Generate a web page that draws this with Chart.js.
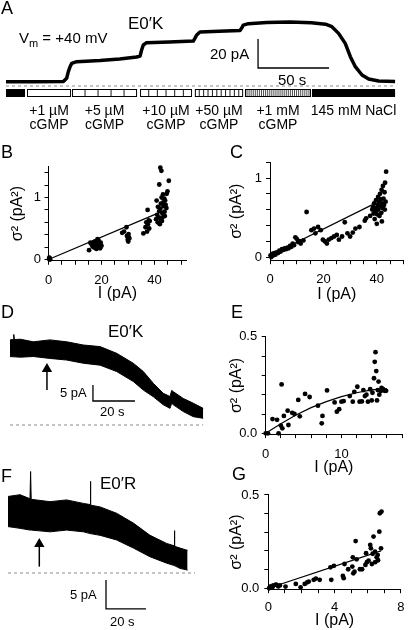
<!DOCTYPE html>
<html lang="en"><head><meta charset="utf-8">
<title>cGMP-activated current and variance</title>
<script src="https://cdn.jsdelivr.net/npm/chart.js@4.4.1/dist/chart.umd.min.js"></script>
<style>
html,body{margin:0;padding:0;background:#fff;}
body{width:411px;height:630px;position:relative;overflow:hidden;font-family:"Liberation Sans",Arial,Helvetica,sans-serif;color:#000;}
canvas{position:absolute;}
.t{position:absolute;line-height:1;white-space:nowrap;}
.L{font-size:18px;}
</style></head><body>
<canvas id="cA"></canvas>
<canvas id="cB"></canvas>
<canvas id="cC"></canvas>
<canvas id="cD"></canvas>
<canvas id="cE"></canvas>
<canvas id="cF"></canvas>
<canvas id="cG"></canvas>

<div class="t L" style="left:1px;top:-1px">A</div>
<div class="t" style="left:128px;top:15px;font-size:17px">E0′K</div>
<div class="t" style="left:19px;top:30px;font-size:15px">V<span style="font-size:11px;position:relative;top:4px">m</span> = +40 mV</div>
<div class="t" style="left:210px;top:46px;font-size:15px">20 pA</div>
<div class="t" style="left:278px;top:72px;font-size:15px">50 s</div>

<div class="t L" style="left:1px;top:143px">B</div>
<div class="t L" style="left:230px;top:143px">C</div>

<div class="t L" style="left:1px;top:303px">D</div>
<div class="t" style="left:108px;top:323px;font-size:17px">E0′K</div>
<div class="t" style="left:60px;top:386px;font-size:13px">5 pA</div>
<div class="t" style="left:100px;top:405px;font-size:13px">20 s</div>
<div class="t L" style="left:231px;top:303px">E</div>

<div class="t L" style="left:1px;top:467px">F</div>
<div class="t" style="left:100px;top:475px;font-size:17px">E0′R</div>
<div class="t" style="left:70px;top:588px;font-size:13px">5 pA</div>
<div class="t" style="left:110px;top:615px;font-size:13px">20 s</div>
<div class="t L" style="left:232px;top:465px">G</div>

<script>
const FONT = '"Liberation Sans", Arial, Helvetica, sans-serif';

// ===== Panel A: current trace (time s, current pA) =====
const aTime    = [0, 20, 40.4, 42.7, 43.9, 45.1, 46.3, 49.8, 66.2, 80, 92, 94.4, 95.5, 96.7, 99, 115, 131.9, 133.1, 134.3, 136.6, 150, 164.8, 166, 167.1, 170.7, 183.6, 200, 215, 225, 229.5, 234.2, 238.9, 242.5, 246, 250.7, 255.4, 262.4, 274];
const aCurrent = [3.0, 3.0, 3.1, 5.3, 9.9, 13.3, 15.6, 16.8, 17.6, 18.6, 20.0, 20.7, 24.8, 28.3, 29.9, 30.4, 31.0, 33.0, 35.2, 37.3, 37.8, 38.3, 40.0, 42.0, 43.0, 43.8, 44.2, 43.6, 42.6, 40.9, 36.3, 29.4, 20.2, 13.3, 7.6, 4.8, 3.4, 3.1];
const aZeroT = [0, 274], aZeroI = [0, 0];
const aScaleT = [177.5, 177.5, 227.5], aScaleI = [32.4, 12.4, 12.4];   // 20 pA / 50 s
// solution bar (time s)
const stimStart = [0, 14.8, 46.5, 94.4, 133, 168.3, 215.5];
const stimEnd   = [13.4, 45.8, 92.3, 131, 167, 214.8, 274];
const stimCells = [0, 1, 5, 6, 11, 32, 0];   // 0 = solid black
const stimLabel = ['', '+1 µM\ncGMP', '+5 µM\ncGMP', '+10 µM\ncGMP', '+50 µM\ncGMP', '+1 mM\ncGMP', '145 mM NaCl'];

// ===== Panel B: variance vs current =====
const bI   = [0.2,0.4,0.6,0.3,0.5, 15.3,15.8,16.2,16.6,17.0,17.2,17.3,17.6,17.9,18.1,18.3,18.5,18.6,18.9,19.2,19.5,19.7,20.0, 27.8,28.5,29.4,29.6,29.9,30.1,30.2,30.3,30.5, 35.8,36.6,36.9,37.2,37.4,37.5,37.8,38.0,38.2, 40.6,40.8,41.0,41.2,41.3,41.8,41.6,41.8,42.0,42.2,42.6,42.4,42.5,42.7,42.9,43.0,43.2,43.3,43.5,43.7,43.8,44.0,44.2,44.9,44.6,45.4,44.5,43.9,42.8,42.2];
const bVar = [0.01,0.02,0.0,0.03,0.01, 0.15,0.27,0.25,0.21,0.24,0.28,0.19,0.29,0.23,0.17,0.26,0.33,0.2,0.31,0.22,0.18,0.27,0.22, 0.43,0.45,0.52,0.38,0.32,0.29,0.41,0.36,0.34, 0.42,0.52,0.6,0.45,0.8,0.57,0.63,0.5,0.62, 0.65,0.95,0.72,0.6,0.85,1.21,0.68,0.78,0.57,1.48,1.43,0.9,0.64,1.0,0.75,0.68,1.05,0.92,0.86,0.98,0.77,0.95,0.88,1.1,1.06,1.27,0.83,0.7,0.62,0.82];
const bFitI = [0, 40.9], bFitVar = [0, 0.74];

// ===== Panel C =====
const cI   = [0.2,0.5,0.8,1.2,1.6,2.0,2.5,3.0,3.5,4.0,4.5,5.0,5.5,6.0,6.5,7.0,7.5,8.0,8.5,9.0,9.5,10.0,10.5,11.0,11.5,12.5, 13.7, 15.5,16.5,17.0,18.0,19.0,19.8,20.5,21.3,22.0,23.0,24.0,25.0,25.8,27.0,28.0,29.0,30.0,31.0,32.0,33.5,35.5,36.0,37.5, 38.3,38.6,38.8,39.0,39.2,39.5,39.7,39.9,40.1,40.3,40.5,40.6,40.8,41.0,41.2,41.3,41.5,41.7,41.8,42.0,42.2,42.3,42.5,42.7,42.9,43.1,43.3,43.5,43.0,41.9,40.0];
const cVar = [0.02,0.0,0.04,0.02,0.05,0.03,0.06,0.05,0.08,0.07,0.1,0.09,0.11,0.1,0.12,0.11,0.14,0.13,0.17,0.15,0.25,0.23,0.19,0.2,0.17,0.21, 0.57, 0.34,0.36,0.3,0.38,0.34,0.22,0.2,0.17,0.22,0.24,0.26,0.28,0.22,0.26,0.44,0.3,0.26,0.31,0.36,0.38,0.46,0.49,0.52, 0.6,0.63,0.55,0.68,0.48,0.58,0.72,0.62,0.54,0.66,0.76,0.6,0.7,0.52,0.8,0.64,0.73,0.56,0.85,0.68,0.62,0.9,0.74,0.66,0.82,0.94,0.7,1.08,0.6,0.45,0.42];
const cFitI = [0, 38.2], cFitVar = [0.02, 0.66];

// ===== Panel D: trace envelope (time s, current pA) =====
const dTime  = [0, 1.5, 1.8, 2.1, 5, 11.1, 19, 27, 34.9, 42.9, 50.8, 58.7, 63.5, 68.3, 73, 76.2, 77, 77.8, 82.5, 87.3, 92];
const dUpper = [26.6, 26.7, 28.3, 26.7, 26.8, 26.0, 26.6, 26.0, 25.0, 24.5, 22.4, 19.3, 16.7, 13.0, 9.9, 8.9, 10.8, 10.4, 8.3, 6.8, 5.2];
const dLower = [21.4, 21.3, 21.3, 21.3, 21.2, 21.4, 20.8, 20.3, 19.3, 18.7, 16.7, 13.6, 10.9, 8.8, 6.3, 5.2, 6.8, 6.3, 4.2, 2.6, 2.1];
const dZeroT = [0, 92], dZeroI = [0, 0];
const dScaleT = [39.5, 39.5, 59.5], dScaleI = [12.5, 7.5, 7.5];   // 5 pA / 20 s
const dArrowT = [17.6, 17.6], dArrowI = [10.9, 17.5];

// ===== Panel E =====
const eI   = [0.0,0.3,0.9,1.5,1.7,2.0,2.1,2.2,2.4,2.9,3.0,3.5,3.8,4.3,4.5,5.2,5.8,6.9,7.4,7.5,8.1,9.1,9.4,9.7,10.0,10.3,11.1,11.5,11.7,12.1,12.4,12.7,12.9,13.1,13.3,13.5,13.8,14.0,14.1,14.3,14.4,14.5,14.6,14.7,14.8,14.9,15.0,15.2,15.3,15.5,15.7,15.9];
const eVar = [0.0,0.0,0.074,0.07,0.0,0.04,0.253,0.026,0.09,0.117,0.043,0.106,0.1,0.173,0.088,0.204,0.188,0.143,0.052,0.09,0.222,0.16,0.112,0.125,0.164,0.167,0.193,0.164,0.215,0.241,0.164,0.165,0.224,0.193,0.2,0.164,0.228,0.17,0.21,0.285,0.37,0.42,0.322,0.17,0.224,0.268,0.2,0.219,0.235,0.228,0.22,0.22];
const eFitI   = [0, 2, 4, 6, 8, 10, 12, 14, 16];
const eFitVar = [0, 0.05, 0.095, 0.133, 0.164, 0.19, 0.21, 0.225, 0.232];

// ===== Panel F: trace envelope =====
const fTime  = [0, 6, 11, 11.3, 11.6, 21, 29.3, 37.7, 41, 41.2, 41.4, 46, 54.3, 62.7, 71, 79.3, 83, 83.2, 83.4, 86, 89.8];
const fUpper = [13.2, 13.5, 12.8, 17.5, 12.7, 12.3, 12.6, 12.0, 11.8, 15.8, 11.7, 11.4, 10.3, 8.6, 6.5, 5.1, 4.7, 7.3, 4.6, 4.3, 3.9];
const fLower = [8.0, 7.7, 7.4, 7.4, 7.4, 7.1, 7.4, 7.1, 6.8, 6.8, 6.8, 6.5, 5.7, 4.3, 2.8, 1.7, 1.3, 1.3, 1.3, 0.8, 0.5];
const fZeroT = [0, 93.5], fZeroI = [0, 0];
const fScaleT = [49, 49, 69], fScaleI = [-1.2, -6.2, -6.2];
const fArrowT = [15.65, 15.65], fArrowI = [1.1, 5.0];

// ===== Panel G =====
const gI   = [0.05,0.15,0.25,0.3,0.45,0.5,0.6,0.7, 1.04,1.66,1.95,2.2,2.35,2.44,2.74,2.87,3.1,3.8,3.75,3.96,4.5,4.55,4.6,4.82,5.07,5.13,5.2,5.1,5.27,5.33,5.53,5.66,5.86,5.9,5.95,6.05,6.15,6.19,6.25,6.3,6.35,6.44,6.45,6.54,6.6,6.62,6.7,6.73,6.8,6.83];
const gVar = [0.0,0.01,0.005,0.015,0.02,0.018,0.01,0.015, 0.009,0.023,0.005,0.023,0.032,0.036,0.045,0.052,0.045,0.045,0.112,0.12,0.066,0.054,0.13,0.102,0.116,0.08,0.089,0.166,0.253,0.155,0.102,0.102,0.125,0.188,0.14,0.148,0.232,0.214,0.13,0.185,0.277,0.196,0.14,0.166,0.178,0.15,0.303,0.402,0.214,0.411];
const gFitI = [0, 6.8], gFitVar = [0, 0.2];

// ticks
const bXTicks = [0,5,10,15,20,25,30,35,40,45,50], bYTicks = [0,0.2,0.4,0.6,0.8,1.0,1.2,1.4];
const cXTicks = [0,5,10,15,20,25,30,35,40,45,50], cYTicks = [0,0.2,0.4,0.6,0.8,1.0,1.2];
const eXTicks = [0,2,4,6,8,10,12,14,16,18], eYTicks = [0,0.1,0.2,0.3,0.4,0.5];
const gXTicks = [0,1,2,3,4,5,6,7,8], gYTicks = [0,0.1,0.2,0.3,0.4,0.5];

// ===== helpers =====
const pts = (xs, ys) => xs.map((x, i) => ({x, y: ys[i]}));
function place(c, r){ c.width=r.w; c.height=r.h; c.style.left=r.x+'px'; c.style.top=r.y+'px'; c.style.width=r.w+'px'; c.style.height=r.h+'px'; }
const baseOpts = { responsive:false, maintainAspectRatio:false, animation:false, devicePixelRatio:1, events:[] };

function makeTrace(id, r, t0px, tpp, i0px, ipp, datasets, plugins) {
  const c = document.getElementById(id); place(c, r);
  return new Chart(c, {
    type:'line',
    data:{datasets},
    options:Object.assign({}, baseOpts, {
      layout:{autoPadding:false, padding:0},
      plugins:{legend:{display:false}, tooltip:{enabled:false}},
      elements:{point:{radius:0}, line:{tension:0}},
      scales:{
        x:{type:'linear', display:false, min:(r.x - t0px)/tpp, max:(r.x + r.w - t0px)/tpp},
        y:{type:'linear', display:false, min:(i0px - (r.y + r.h))/ipp, max:(i0px - r.y)/ipp}
      }
    }),
    plugins: plugins || []
  });
}
const lineDs = (xs, ys, extra) => Object.assign({data:pts(xs, ys), borderColor:'#000', borderWidth:1.2, pointRadius:0, fill:false, clip:false}, extra || {});
const bandDs = (t, up, lo) => [
  {data:pts(t, up), borderColor:'#000', backgroundColor:'#000', borderWidth:1, pointRadius:0, fill:'+1'},
  {data:pts(t, lo), borderColor:'#000', borderWidth:1, pointRadius:0, fill:false}
];

function makeScatter(id, o) {
  const c = document.getElementById(id); place(c, o.canvas);
  const yW = o.area.l - o.canvas.x, xH = o.canvas.y + o.canvas.h - o.area.b;
  const pad = {left:0, top:o.area.t - o.canvas.y, right:o.canvas.x + o.canvas.w - o.area.r, bottom:0};
  const isLab = (arr, v) => arr.some(a => Math.abs(a - v) < 1e-9);
  const tickFont = {family:FONT, size:13};
  const titleFont = {family:FONT, size:16};
  const grid = {display:true, drawOnChartArea:false, drawTicks:true, tickLength:4, tickColor:'#000', tickWidth:1};
  const border = {display:true, color:'#000', width:1};
  return new Chart(c, {
    type:'scatter',
    data:{datasets:[
      {data:o.pts, showLine:false, pointRadius:2.4, pointHoverRadius:2.4, pointBackgroundColor:'#000', pointBorderWidth:0, clip:false},
      {data:o.fit, showLine:true, borderColor:'#000', borderWidth:1.2, pointRadius:0, fill:false, clip:false, tension:0}
    ]},
    options:Object.assign({}, baseOpts, {
      layout:{autoPadding:false, padding:pad},
      plugins:{legend:{display:false}, tooltip:{enabled:false}},
      scales:{
        x:{type:'linear', position:'bottom', min:o.x[0], max:o.x[1],
           afterBuildTicks:s => { s.ticks = o.xTicks.map(v => ({value:v})); },
           afterFit:s => { s.height = xH; },
           ticks:{autoSkip:false, maxRotation:0, minRotation:0, padding:o.xtp, color:'#000', font:tickFont,
                  callback:v => isLab(o.xLab, v) ? v.toFixed(o.xDec) : ''},
           grid, border,
           title:{display:true, text:'I (pA)', color:'#000', font:titleFont, padding:{top:0, bottom:o.xTitlePad}}
        },
        y:{type:'linear', position:'left', min:o.y[0], max:o.y[1],
           afterBuildTicks:s => { s.ticks = o.yTicks.map(v => ({value:v})); },
           afterFit:s => { s.width = yW; },
           ticks:{autoSkip:false, padding:o.ytp, color:'#000', font:tickFont,
                  callback:v => isLab(o.yLab, v) ? v.toFixed(o.yDec) : ''},
           grid, border,
           title:{display:true, text:'σ² (pA²)', color:'#000', font:titleFont, padding:{top:o.yTitlePad, bottom:0}}
        }
      }
    })
  });
}

// ===== Panel A chart =====
const stimPlugin = {
  id:'stimBar',
  afterDatasetsDraw(chart) {
    const ctx = chart.ctx, xs = chart.scales.x;
    const top = 89, h = 8;
    ctx.save();
    for (let i = 0; i < stimStart.length; i++) {
      const x0 = xs.getPixelForValue(stimStart[i]), x1 = xs.getPixelForValue(stimEnd[i]);
      if (stimCells[i] === 0) {
        ctx.fillStyle = '#000'; ctx.fillRect(x0, top, x1 - x0, h);
      } else {
        ctx.strokeStyle = '#000'; ctx.lineWidth = 1;
        ctx.strokeRect(x0 + 0.5, top + 0.5, x1 - x0 - 1, h - 1);
        ctx.lineWidth = stimCells[i] > 20 ? 0.7 : 0.9;
        for (let k = 1; k < stimCells[i]; k++) {
          const xx = x0 + (x1 - x0) * k / stimCells[i];
          ctx.beginPath(); ctx.moveTo(xx, top + 1); ctx.lineTo(xx, top + h - 1); ctx.stroke();
        }
      }
      if (stimLabel[i]) {
        ctx.fillStyle = '#000'; ctx.font = '14px ' + FONT; ctx.textAlign = 'center'; ctx.textBaseline = 'alphabetic';
        const lines = stimLabel[i].split('\n');
        lines.forEach((ln, j) => ctx.fillText(ln, (x0 + x1) / 2, 114.5 + j * 14));
      }
    }
    ctx.restore();
  }
};
makeTrace('cA', {x:0, y:0, w:411, h:132}, 6, 1.42, 86, 1.45, [
  lineDs(aTime, aCurrent, {borderWidth:3.5, borderJoinStyle:'round'}),
  lineDs(aZeroT, aZeroI, {borderColor:'#8a8a8a', borderWidth:1, borderDash:[3,3]}),
  lineDs(aScaleT, aScaleI, {borderWidth:1.3})
], [stimPlugin]);

// ===== Panel D chart =====
makeTrace('cD', {x:0, y:320, w:210, h:110}, 10, 2.1, 425, 3.2, [
  ...bandDs(dTime, dUpper, dLower),
  lineDs(dZeroT, dZeroI, {borderColor:'#8a8a8a', borderWidth:1, borderDash:[3,3]}),
  lineDs(dScaleT, dScaleI, {borderWidth:1.3}),
  lineDs(dArrowT, dArrowI, {borderWidth:1.5, pointRadius:[0,6], pointStyle:'triangle', pointBackgroundColor:'#000', pointBorderWidth:0})
]);

// ===== Panel F chart =====
makeTrace('cF', {x:0, y:462, w:205, h:168}, 8, 2.0, 573, 5.8, [
  ...bandDs(fTime, fUpper, fLower),
  lineDs(fZeroT, fZeroI, {borderColor:'#8a8a8a', borderWidth:1, borderDash:[3,3]}),
  lineDs(fScaleT, fScaleI, {borderWidth:1.3}),
  lineDs(fArrowT, fArrowI, {borderWidth:1.5, pointRadius:[0,6], pointStyle:'triangle', pointBackgroundColor:'#000', pointBorderWidth:0})
]);

// ===== scatter panels =====
makeScatter('cB', {canvas:{x:0, y:140, w:205, h:165}, area:{l:48.5, r:186.3, t:166.5, b:260.74},
  x:[0,52], y:[-0.02,1.5], xTicks:bXTicks, yTicks:bYTicks, xLab:[0,20,40], yLab:[0,1], xDec:0, yDec:0,
  xtp:7.5, ytp:3.5, xTitlePad:1.4, yTitlePad:8.4, pts:pts(bI, bVar), fit:pts(bFitI, bFitVar)});

makeScatter('cC', {canvas:{x:215, y:140, w:196, h:165}, area:{l:270, r:409.5, t:162.2, b:260.2},
  x:[0,50], y:[-0.04,1.2], xTicks:cXTicks, yTicks:cYTicks, xLab:[0,20,40], yLab:[0,1], xDec:0, yDec:0,
  xtp:7.5, ytp:4, xTitlePad:0.5, yTitlePad:12.4, pts:pts(cI, cVar), fit:pts(cFitI, cFitVar)});

makeScatter('cE', {canvas:{x:215, y:320, w:196, h:160}, area:{l:265.7, r:408.4, t:336.7, b:434.1},
  x:[0,18], y:[-0.004,0.5], xTicks:eXTicks, yTicks:eYTicks, xLab:[0,10], yLab:[0,0.5], xDec:0, yDec:1,
  xtp:9, ytp:4.5, xTitlePad:2.4, yTitlePad:12.4, pts:pts(eI, eVar), fit:pts(eFitI, eFitVar)});

makeScatter('cG', {canvas:{x:215, y:475, w:196, h:155}, area:{l:268.3, r:405, t:494.95, b:589.2},
  x:[0,8], y:[-0.005,0.5], xTicks:gXTicks, yTicks:gYTicks, xLab:[0,4,8], yLab:[0,0.5], xDec:0, yDec:1,
  xtp:6.5, ytp:5, xTitlePad:0, yTitlePad:12.4, pts:pts(gI, gVar), fit:pts(gFitI, gFitVar)});
</script>
</body></html>
